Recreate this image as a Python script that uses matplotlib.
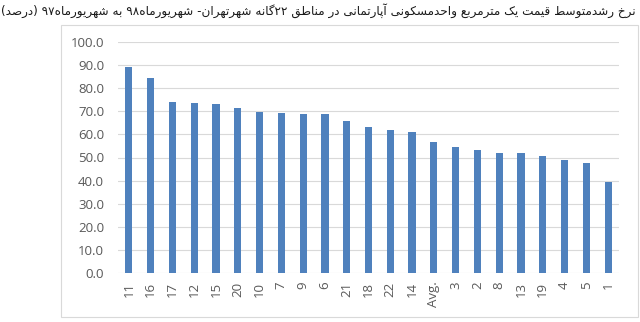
import re
import matplotlib
matplotlib.use("Agg")
import matplotlib.pyplot as plt
from matplotlib.patches import Rectangle

# ---------------- data ----------------
categories = ["11", "16", "17", "12", "15", "20", "10", "7", "9", "6", "21",
              "18", "22", "14", "Avg.", "3", "2", "8", "13", "19", "4", "5", "1"]
values = [89.1, 84.5, 74.0, 73.7, 73.4, 71.5, 69.9, 69.2, 68.9, 68.8, 66.0,
          63.1, 61.8, 60.9, 56.6, 54.7, 53.3, 52.0, 51.9, 50.8, 48.9, 47.6, 39.5]
yticks = [0, 10, 20, 30, 40, 50, 60, 70, 80, 90, 100]
title_text = "نرخ رشدمتوسط قیمت یک مترمربع واحدمسکونی آپارتمانی در مناطق ۲۲گانه شهرتهران- شهریورماه۹۸ به شهریورماه۹۷ (درصد)"

# ------------- minimal Arabic/Persian shaping -------------
FORMS = {
    '\u0627': ('\uFE8D', '\uFE8E', None, None),
    '\u0622': ('\uFE81', '\uFE82', None, None),
    '\u0628': ('\uFE8F', '\uFE90', '\uFE91', '\uFE92'),
    '\u067E': ('\uFB56', '\uFB57', '\uFB58', '\uFB59'),
    '\u062A': ('\uFE95', '\uFE96', '\uFE97', '\uFE98'),
    '\u062B': ('\uFE99', '\uFE9A', '\uFE9B', '\uFE9C'),
    '\u062C': ('\uFE9D', '\uFE9E', '\uFE9F', '\uFEA0'),
    '\u0686': ('\uFB7A', '\uFB7B', '\uFB7C', '\uFB7D'),
    '\u062D': ('\uFEA1', '\uFEA2', '\uFEA3', '\uFEA4'),
    '\u062E': ('\uFEA5', '\uFEA6', '\uFEA7', '\uFEA8'),
    '\u062F': ('\uFEA9', '\uFEAA', None, None),
    '\u0630': ('\uFEAB', '\uFEAC', None, None),
    '\u0631': ('\uFEAD', '\uFEAE', None, None),
    '\u0632': ('\uFEAF', '\uFEB0', None, None),
    '\u0698': ('\uFB8A', '\uFB8B', None, None),
    '\u0633': ('\uFEB1', '\uFEB2', '\uFEB3', '\uFEB4'),
    '\u0634': ('\uFEB5', '\uFEB6', '\uFEB7', '\uFEB8'),
    '\u0635': ('\uFEB9', '\uFEBA', '\uFEBB', '\uFEBC'),
    '\u0636': ('\uFEBD', '\uFEBE', '\uFEBF', '\uFEC0'),
    '\u0637': ('\uFEC1', '\uFEC2', '\uFEC3', '\uFEC4'),
    '\u0638': ('\uFEC5', '\uFEC6', '\uFEC7', '\uFEC8'),
    '\u0639': ('\uFEC9', '\uFECA', '\uFECB', '\uFECC'),
    '\u063A': ('\uFECD', '\uFECE', '\uFECF', '\uFED0'),
    '\u0641': ('\uFED1', '\uFED2', '\uFED3', '\uFED4'),
    '\u0642': ('\uFED5', '\uFED6', '\uFED7', '\uFED8'),
    '\u06A9': ('\uFB8E', '\uFB8F', '\uFB90', '\uFB91'),
    '\u06AF': ('\uFB92', '\uFB93', '\uFB94', '\uFB95'),
    '\u0644': ('\uFEDD', '\uFEDE', '\uFEDF', '\uFEE0'),
    '\u0645': ('\uFEE1', '\uFEE2', '\uFEE3', '\uFEE4'),
    '\u0646': ('\uFEE5', '\uFEE6', '\uFEE7', '\uFEE8'),
    '\u0647': ('\uFEE9', '\uFEEA', '\uFEEB', '\uFEEC'),
    '\u0648': ('\uFEED', '\uFEEE', None, None),
    '\u06CC': ('\uFBFC', '\uFBFD', '\uFBFE', '\uFBFF'),
}


def shape(text):
    out = []
    n = len(text)
    for i, ch in enumerate(text):
        if ch not in FORMS:
            out.append(ch)
            continue
        prev = text[i - 1] if i > 0 else ''
        nxt = text[i + 1] if i < n - 1 else ''
        dual = FORMS[ch][2] is not None
        jp = prev in FORMS and FORMS[prev][2] is not None
        jn = dual and nxt in FORMS
        iso, fin, ini, med = FORMS[ch]
        if jp and jn:
            out.append(med)
        elif jp:
            out.append(fin)
        elif jn:
            out.append(ini)
        else:
            out.append(iso)
    s = ''.join(out)[::-1]
    s = re.sub(r'[0-9\u06F0-\u06F9\u0660-\u0669]+', lambda m: m.group(0)[::-1], s)
    s = s.translate(str.maketrans({'(': ')', ')': '('}))
    return s


# ---------------- figure ----------------
W, H, DPI = 640, 322, 100
fig = plt.figure(figsize=(W / DPI, H / DPI), dpi=DPI)
fig.patch.set_facecolor("white")

# outer chart frame
fig.add_artist(Rectangle((61 / W, 1 - 317 / H), 577 / W, 292 / H,
                         transform=fig.transFigure, facecolor="white",
                         edgecolor="#d9d9d9", linewidth=0.8, zorder=0))

ax = fig.add_axes([118 / W, 1 - 272.7 / H, 501 / W, (272.7 - 42.3) / H])
ax.set_facecolor("none")
x = list(range(len(categories)))
ax.bar(x, values, width=0.33, color="#4F81BD", zorder=3)
ax.set_xlim(-0.5, len(categories) - 0.5)
ax.set_ylim(0, 100)
ax.set_yticks(yticks)
ax.set_yticklabels([f"{v:.1f}" for v in yticks])
ax.set_xticks(x)
ax.set_xticklabels(categories, rotation=90)
for s in ax.spines.values():
    s.set_visible(False)
ax.grid(axis="y", color="#d9d9d9", linewidth=0.8, zorder=0)
ax.tick_params(axis="both", length=0, colors="#595959")
ax.tick_params(axis="y", pad=10, labelsize=9.5)
ax.tick_params(axis="x", pad=6.5, labelsize=9.5)
for lab in ax.get_xticklabels() + ax.get_yticklabels():
    lab.set_fontfamily(["Open Sans", "DejaVu Sans"])
    lab.set_color("#595959")

# title (right-to-left Persian)
t = fig.text(636 / W, 1 - 11 / H, shape(title_text), ha="right", va="center",
             fontsize=11, color="#1a1a1a", family=["DejaVu Sans"])
fig.canvas.draw()
bb = t.get_window_extent()
t.set_fontsize(11 * 632 / bb.width)

fig.savefig("out.png", dpi=DPI, facecolor="white")
